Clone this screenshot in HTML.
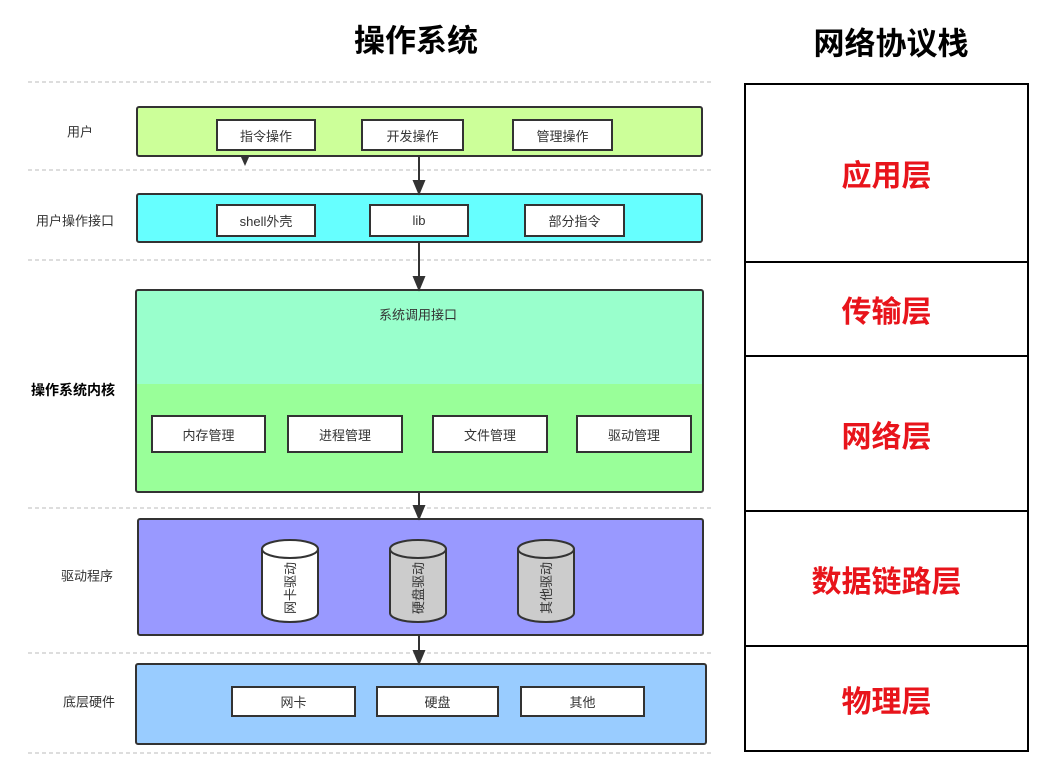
<!DOCTYPE html>
<html><head><meta charset="utf-8"><style>
body{margin:0;width:1055px;height:760px;background:#fff;position:relative;overflow:hidden;font-family:"Liberation Sans","Noto Sans CJK SC",sans-serif}
.a{position:absolute;box-sizing:border-box}
.b{border:2px solid #333;border-radius:3px}
.w{background:#fff;border:2px solid #333;display:flex;align-items:center;justify-content:center;font-size:13px;color:#333}
.l{font-size:13px;color:#333;transform:translate(-50%,-50%)}
.t{font-size:31px;font-weight:bold;color:#000;transform:translate(-50%,-50%);white-space:nowrap}
.r{left:744px;width:285px;border:2px solid #000;display:flex;align-items:center;justify-content:center;color:#e8141b;font-size:30px;font-weight:bold}
</style></head><body>
<div class="a t" style="left:416px;top:38px">操作系统</div>
<div class="a t" style="left:891px;top:41px">网络协议栈</div>

<div class="a b" style="left:136px;top:106px;width:567px;height:51px;background:#ccff99"></div>
<div class="a b" style="left:136px;top:193px;width:567px;height:50px;background:#66ffff"></div>
<div class="a b" style="left:135px;top:289px;width:569px;height:204px;background:linear-gradient(#99ffcc 0,#99ffcc 93px,#99ff99 93px)"></div>
<div class="a b" style="left:137px;top:518px;width:567px;height:118px;background:#9999ff"></div>
<div class="a b" style="left:135px;top:663px;width:572px;height:82px;background:#99ccff"></div>

<svg class="a" style="left:0;top:0" width="1055" height="760">
<g stroke="#bbb" stroke-dasharray="4,3" stroke-width="1">
<line x1="28" y1="82" x2="712" y2="82"/><line x1="28" y1="170" x2="712" y2="170"/><line x1="28" y1="260" x2="712" y2="260"/><line x1="28" y1="508" x2="712" y2="508"/><line x1="28" y1="653" x2="712" y2="653"/><line x1="28" y1="753" x2="712" y2="753"/>
</g>
<g stroke="#333" stroke-width="2" fill="#333">
<line x1="419" y1="157" x2="419" y2="182"/><polygon points="414,181 424,181 419,193"/>
<line x1="419" y1="243" x2="419" y2="278"/><polygon points="414,277 424,277 419,289"/>
<line x1="419" y1="493" x2="419" y2="507"/><polygon points="414,506 424,506 419,518"/>
<line x1="419" y1="636" x2="419" y2="652"/><polygon points="414,651 424,651 419,663"/>
<polygon points="241,157 249,157 245,166" stroke-width="0"/>
</g>
<g stroke="#333" stroke-width="2">
<path d="M262,549 V613 A28,9 0 0 0 318,613 V549" fill="#fff"/><ellipse cx="290" cy="549" rx="28" ry="9" fill="#fff"/>
<path d="M390,549 V613 A28,9 0 0 0 446,613 V549" fill="#ccc"/><ellipse cx="418" cy="549" rx="28" ry="9" fill="#ccc"/>
<path d="M518,549 V613 A28,9 0 0 0 574,613 V549" fill="#ccc"/><ellipse cx="546" cy="549" rx="28" ry="9" fill="#ccc"/>
</g>
<g font-size="13" fill="#333" font-family="Liberation Sans,Noto Sans CJK SC,sans-serif" text-anchor="middle">
<text transform="translate(295,588) rotate(-90)">网卡驱动</text>
<text transform="translate(423,588) rotate(-90)">硬盘驱动</text>
<text transform="translate(551,588) rotate(-90)">其他驱动</text>
</g>
</svg>

<div class="a w" style="left:216px;top:119px;width:100px;height:32px">指令操作</div>
<div class="a w" style="left:361px;top:119px;width:103px;height:32px">开发操作</div>
<div class="a w" style="left:512px;top:119px;width:101px;height:32px">管理操作</div>
<div class="a w" style="left:216px;top:204px;width:100px;height:33px">shell外壳</div>
<div class="a w" style="left:369px;top:204px;width:100px;height:33px">lib</div>
<div class="a w" style="left:524px;top:204px;width:101px;height:33px">部分指令</div>
<div class="a l" style="left:418px;top:314px">系统调用接口</div>
<div class="a w" style="left:151px;top:415px;width:115px;height:38px">内存管理</div>
<div class="a w" style="left:287px;top:415px;width:116px;height:38px">进程管理</div>
<div class="a w" style="left:432px;top:415px;width:116px;height:38px">文件管理</div>
<div class="a w" style="left:576px;top:415px;width:116px;height:38px">驱动管理</div>
<div class="a w" style="left:231px;top:686px;width:125px;height:31px">网卡</div>
<div class="a w" style="left:376px;top:686px;width:123px;height:31px">硬盘</div>
<div class="a w" style="left:520px;top:686px;width:125px;height:31px">其他</div>

<div class="a l" style="left:80px;top:131px">用户</div>
<div class="a l" style="left:75px;top:220px">用户操作接口</div>
<div class="a l" style="left:73px;top:390px;font-weight:bold;color:#000;font-size:14px">操作系统内核</div>
<div class="a l" style="left:87px;top:575px">驱动程序</div>
<div class="a l" style="left:89px;top:701px">底层硬件</div>

<div class="a r" style="top:83px;height:180px">应用层</div>
<div class="a r" style="top:261px;height:96px">传输层</div>
<div class="a r" style="top:355px;height:157px">网络层</div>
<div class="a r" style="top:510px;height:137px">数据链路层</div>
<div class="a r" style="top:645px;height:107px">物理层</div>
</body></html>
